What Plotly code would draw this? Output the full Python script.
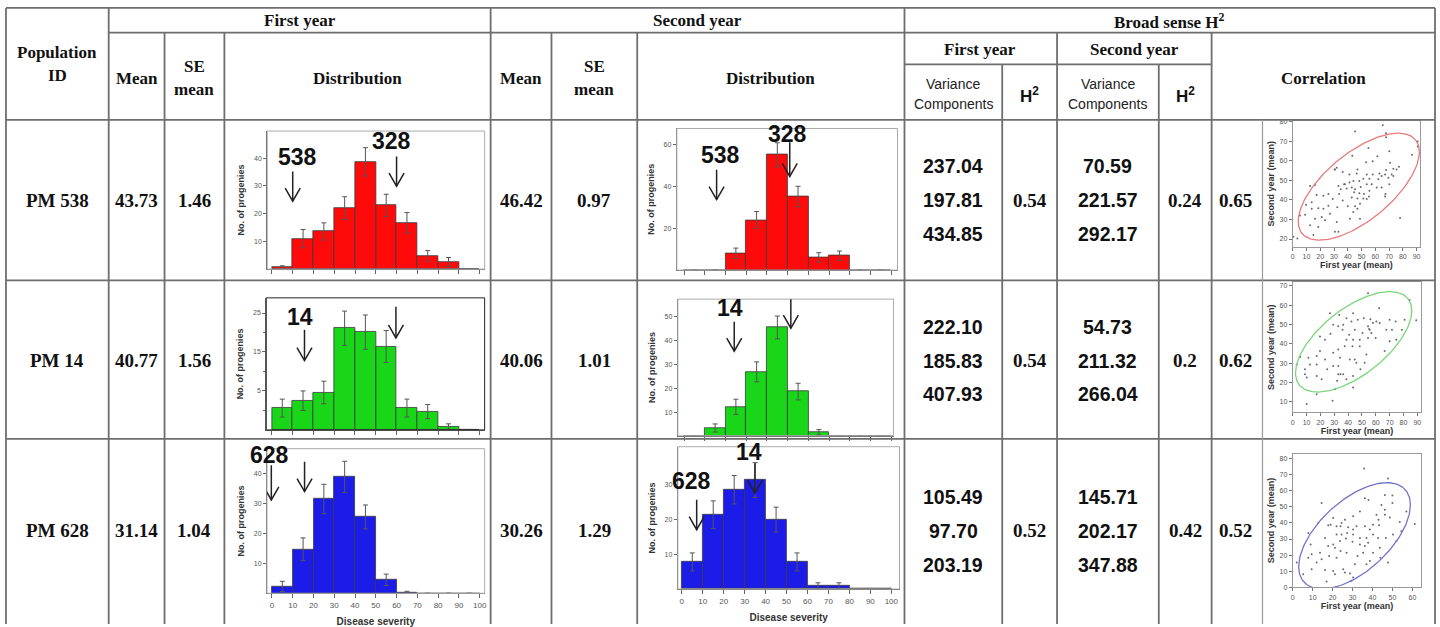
import numpy as np
import plotly.graph_objects as go

W, H = 1440, 627

# ---------------- table values ----------------
populations = ["PM 538", "PM 14", "PM 628"]
mean_y1 = ["43.73", "40.77", "31.14"]
se_y1 = ["1.46", "1.56", "1.04"]
mean_y2 = ["46.42", "40.06", "30.26"]
se_y2 = ["0.97", "1.01", "1.29"]
var_comp_y1 = [["237.04", "197.81", "434.85"],
               ["222.10", "185.83", "407.93"],
               ["105.49", "97.70", "203.19"]]
h2_y1 = ["0.54", "0.54", "0.52"]
var_comp_y2 = [["70.59", "221.57", "292.17"],
               ["54.73", "211.32", "266.04"],
               ["145.71", "202.17", "347.88"]]
h2_y2 = ["0.24", "0.2", "0.42"]
correlation = ["0.65", "0.62", "0.52"]

# ---------------- histogram values (bins of 10 over 0-100) ----------------
bin_centers = [5, 15, 25, 35, 45, 55, 65, 75, 85, 95]
pm538_y1 = [0.6, 11, 13.6, 22, 38.7, 23, 16.7, 4.8, 2.6, 0]
pm538_y1_err = [0.6, 3.3, 3.1, 4.1, 5.1, 4.0, 3.7, 1.9, 1.6, 0]
pm538_y2 = [0, 0, 8.0, 23.9, 55, 35.1, 6.1, 6.9, 0, 0]
pm538_y2_err = [0, 0, 2.5, 4.1, 5.8, 4.9, 2.2, 2.2, 0, 0]
pm14_y1 = [5.6, 7.5, 9.6, 26.1, 25.1, 21.4, 5.6, 4.7, 0.85, 0.1]
pm14_y1_err = [2.3, 2.5, 2.9, 4.4, 4.4, 4.1, 2.3, 1.8, 0.7, 0]
pm14_y2 = [0, 3.3, 12.2, 26.9, 45.6, 18.6, 1.5, 0, 0, 0]
pm14_y2_err = [0, 1.7, 3.2, 4.2, 4.8, 3.5, 1.1, 0, 0, 0]
pm628_y1 = [2.3, 14.7, 31.5, 38.9, 25.5, 4.5, 0.33, 0, 0, 0]
pm628_y1_err = [1.7, 3.8, 4.9, 5.2, 4.0, 1.9, 0.33, 0, 0, 0]
pm628_y2 = [7.8, 21.4, 28.6, 31.4, 20, 7.8, 1, 1, 0, 0]
pm628_y2_err = [2.6, 4.0, 4.1, 5.0, 3.6, 2.6, 0.8, 0.8, 0, 0]

# y-axis tick labels of each histogram (positions, printed text)
ticks_538_y1 = ([10, 20, 30, 40], ["10", "20", "30", "40"])
ticks_538_y2 = ([20, 40, 60], ["20", "40", "60"])
ticks_14_y1 = ([10, 20, 30], ["5", "15", "25"])
ticks_14_y2 = ([10, 20, 30, 40, 50], ["10", "20", "30", "40", "50"])
ticks_628_y1 = ([10, 20, 30, 40], ["10", "20", "30", "40"])
ticks_628_y2 = ([10, 20, 30], ["10", "20", "30"])

# parent markers on the histograms: (x, arrow tip y, arrow tail y)
marks_538_y1 = [(10, 24.5, 35.2), (60, 29.9, 40.6)]
labels_538_y1 = [("538", 12.5, 40.6), ("328", 57.6, 46.3)]
marks_538_y2 = [(15.7, 33.7, 47.9), (51, 44.7, 61)]
labels_538_y2 = [("538", 17.8, 55), ("328", 49.9, 65.2)]
marks_14_y1 = [(15.7, 17.8, 25.7), (59.7, 23.6, 31.6)]
labels_14_y1 = [("14", 13.6, 29)]
marks_14_y2 = [(24.2, 35.6, 48), (51.5, 45.3, 57.8)]
labels_14_y2 = [("14", 22.2, 53.6)]
marks_628_y1 = [(-0.3, 31.2, 42.8), (15.7, 34, 43.9)]
labels_628_y1 = [("628", -1.4, 46.3)]
marks_628_y2 = [(7.1, 17.1, 25.7), (34.9, 27.6, 36.2)]
labels_628_y2 = [("628", 4.8, 31), ("14", 32.2, 39.5)]

# ---------------- progeny means: first year (x) vs second year (y) ----------------
pm538_first = [45.3, 65.4, 67.8, 67.8, 90.8, 90.8, 70.2, 86.7, 55, 61.5, 58.1, 70.7, 67.8, 73.1, 43.3, 47, 32, 30.5,
               36.3, 41.2, 46.5, 53.8, 58.1, 63, 64.6, 67.1, 71.9, 75.5, 77.2, 51.3, 55.7, 48.4, 44.1, 41.2, 37.3, 33.2,
               34.9, 39.2, 42.9, 45.3, 49.4, 53.8, 57.4, 61, 64.6, 62.2, 69.5, 70.2, 73.1, 44.6, 48.4, 51.8, 42.9, 47,
               51.3, 55.4, 48.9, 45.3, 40, 36.3, 33.7, 29.1, 25.9, 22.3, 17.4, 13.8, 9.7, 13.8, 18.6, 22.3, 25.9, 32.4,
               27.1, 21.1, 16.2, 9, 5.3, 12.6, 18.6, 23.5, 32, 33.2, 30.7, 41.6, 48.9, 55.7, 67.3, 67.1, 78, 16.2, 12.6,
               53.3, 38, 3.4, 0.5, 15, 30.7, 53.8, 47, 44]
pm538_second = [75, 78.3, 74.1, 72.1, 69.9, 67.4, 64.9, 63.2, 66.6, 62.4, 59.8, 59, 55.3, 56, 62.7, 55.6, 56.5, 55.6,
                54.3, 53.1, 53.6, 53.1, 53.1, 53.6, 52.3, 53.1, 53.1, 55.6, 57, 50.9, 50.9, 49.7, 49.7, 48.9, 48.1, 47.2,
                45.5, 45.9, 46.4, 45.5, 46.7, 48.1, 48.1, 46.4, 46.4, 50.6, 51.4, 48.1, 52.3, 43.9, 43.5, 43, 41.3, 40.8,
                40.8, 41.8, 38, 36.8, 36.8, 39.7, 43, 40.5, 43, 42.2, 42.5, 38.8, 37.5, 35.5, 35.8, 35.5, 37.1, 36.3,
                32.9, 31.3, 30.4, 32.4, 32.1, 27.1, 26.2, 29.6, 28.7, 23.7, 23.7, 30.4, 30.4, 44.7, 43, 41.8, 30.8, 47.6,
                47.2, 59.3, 48, 20.3, 21.2, 22, 55.6, 40.5, 35.5, 33.8]
pm14_first = [54.4, 62.4, 84.4, 89.2, 71.7, 43.6, 38.8, 33.6, 26.9, 32.9, 29.3, 36.5, 42.4, 47, 51.3, 56.1, 60.4, 58,
              62.8, 55.2, 56.8, 59.9, 54.4, 50.4, 44.8, 40.8, 38.8, 43.6, 48.4, 37.6, 43.2, 48.4, 32.9, 29.3, 34.1,
              41.2, 44.8, 53.2, 66.4, 70, 74.8, 74.3, 70, 67.6, 19.7, 17.3, 11.3, 5.3, 2.9, 8.9, 12.5, 17.3, 23.3, 24.9,
              29.3, 32.9, 36.5, 43.6, 48.9, 46, 17.3, 20.9, 10.1, 8.9, 28.8, 10.1, 17.3, 30.5, 34.5, 38.8, 43.6, 54.4,
              55.6, 27.3, 23.3, 19.7, 80.8, 78.9, 52, 32.1, 36, 32.9]
pm14_second = [66.1, 58.4, 62.6, 52.1, 47.3, 55.8, 53.2, 54.9, 55.8, 49, 49.8, 49.8, 51.5, 52.4, 53.2, 52.7, 51.5, 50.7,
               50.7, 47.6, 45.6, 43, 43, 45.6, 47.3, 44.7, 42.1, 42.1, 42.1, 38.7, 38.7, 38.7, 37, 35.3, 32.7, 31.9,
               31.9, 34.4, 36.2, 41.3, 42.1, 51.5, 52.4, 47.3, 36.2, 33.6, 32.7, 33.2, 29.3, 26.8, 29.3, 29.3, 31.9,
               26.8, 28.5, 24.2, 24.2, 23.3, 26.8, 30.2, 23.3, 21.6, 22.5, 24.2, 10.5, 8.8, 13.9, 16.5, 24.2, 21.6, 17.4,
               49, 47.3, 45.2, 42.1, 43.8, 52.4, 47.3, 30.2, 20.8, 47.3, 28.5]
pm628_first = [35.8, 47.8, 61.2, 14.5, 36.2, 38, 46.2, 50, 50, 46.2, 48.7, 57, 42, 43, 40.3, 38.7, 36.2, 33.7, 30.3,
               26.2, 24, 20.3, 17.8, 22, 24.5, 27.8, 32, 30.3, 33.7, 37, 37.8, 36.2, 33.7, 30, 26.7, 23.7, 20.3, 17.8,
               21.2, 24, 27, 22, 18.3, 14.5, 9, 9.5, 13.7, 7.8, 12, 9.5, 16.2, 20.3, 21.2, 25.3, 26.2, 28.7, 30.3, 29.5,
               17, 5.3, 2, 7.8, 40.3, 42.8, 43.7, 46.7, 50.3, 54.5, 53.7, 52, 38.7, 40.3, 44, 47.8, 32.5, 35.3, 31.2, 37,
               16.2, 12.8, 19, 24.5, 27.3, 46.2, 44.5, 43.3, 30.3, 22]
pm628_second = [73.8, 67.6, 39.3, 52.3, 55.3, 54.3, 57.4, 57, 52.3, 48.2, 43.4, 47.1, 45.1, 42, 38.9, 35.9, 37.9, 47.1,
                44.1, 42, 37.9, 43, 38.5, 37.9, 40, 37.3, 37.9, 32.8, 30.7, 30.7, 27.7, 25.6, 26.6, 28.3, 30.3, 28.7,
                26.6, 25.6, 24.6, 22.5, 21.5, 18.4, 19.5, 17.4, 26.6, 20.5, 21.5, 18.4, 15.4, 11.3, 10.7, 10.2, 8.2, 11.3,
                9.2, 8.6, 6.1, 4.1, 3.7, 8.2, 15.4, 33.8, 32.8, 30.7, 24.6, 30.7, 32.8, 34.8, 40.6, 28.7, 16.4, 21.5,
                18.4, 15.4, 19.5, 21.5, 14.3, 14.3, 30.7, 40, 38.9, 32.8, 33.8, 45.1, 51.2, 38.5, 35.9, 32.8]

# density ellipse parameters: centre x, centre y, half-width x, half-height y, correlation
ellipse_538 = (48, 46.8, 44, 27.4, 0.65)
ellipse_14 = (44, 41, 42, 26, 0.62)
ellipse_628 = (31, 32, 28, 33, 0.58)

SERIF = "Liberation Serif, Times New Roman, serif"
SANS = "Liberation Sans, Arial, sans-serif"

fig = go.Figure()
axes = {}
annotations = []
shapes = []


def px(x):
    return x / W


def py(y):
    return 1 - y / H


def keys(i):
    s = "" if i == 1 else str(i)
    return "xaxis" + s, "yaxis" + s, "x" + s, "y" + s


def text(x, y, s, size, family=SERIF, color="#111", bold=True):
    annotations.append(dict(x=px(x), y=py(y), xref="paper", yref="paper", showarrow=False,
                            text=f"<b>{s}</b>" if bold else s,
                            font=dict(size=size, family=family, color=color),
                            xanchor="center", yanchor="middle"))


def line(x0, y0, x1, y1, color="#6e6e6e", width=1.8):
    shapes.append(dict(type="line", xref="paper", yref="paper", x0=px(x0), y0=py(y0), x1=px(x1), y1=py(y1),
                       line=dict(color=color, width=width)))


def add_hist(i, frame, xrange_, yrange_, yticks, counts, errs, color, marks, labels, frame_color,
             xlabels=False, minor_y=None):
    xa, ya, xr, yr = keys(i)
    l, t, r, b = frame
    axes[xa] = dict(domain=[px(l), px(r)], range=xrange_, anchor=yr, showgrid=False, zeroline=False,
                    showline=True, linecolor="#666", linewidth=1, ticks="outside", ticklen=4, tickcolor="#666",
                    tickvals=list(range(0, 101, 10)), showticklabels=xlabels,
                    tickfont=dict(size=8, family=SANS, color="#555"))
    if xlabels:
        axes[xa]["title"] = dict(text="<b>Disease severity</b>", standoff=9,
                                 font=dict(size=10, family=SANS, color="#333"))
    axes[ya] = dict(domain=[py(b), py(t)], range=yrange_, anchor=xr, showgrid=False, zeroline=False,
                    showline=True, linecolor="#666", linewidth=1, ticks="outside", ticklen=3, tickcolor="#666",
                    tickvals=yticks[0], ticktext=yticks[1], tickfont=dict(size=7, family=SANS, color="#555"),
                    title=dict(text="<b>No. of progenies</b>", standoff=7,
                               font=dict(size=9, family=SANS, color="#333")))
    if minor_y:
        axes[ya]["minor"] = dict(tickvals=minor_y, ticks="outside", ticklen=2, tickcolor="#666", showgrid=False)
    fig.add_trace(go.Bar(x=bin_centers, y=counts, width=10, xaxis=xr, yaxis=yr, showlegend=False,
                         marker=dict(color=color, line=dict(color="#3a3a3a", width=0.8)),
                         error_y=dict(type="data", array=errs, color="#555", thickness=1, width=2.5)))
    shapes.append(dict(type="rect", xref=xr + " domain", yref=yr + " domain", x0=0, x1=1, y0=0, y1=1,
                       line=dict(color=frame_color, width=1), layer="above"))
    for (mx, tip, tail) in marks:
        shapes.append(dict(type="line", xref=xr, yref=yr, x0=mx, x1=mx, y0=tip, y1=tail,
                           line=dict(color="#222", width=1.5)))
        shapes.append(dict(type="path", xref=xr, yref=yr, xsizemode="pixel", ysizemode="pixel",
                           xanchor=mx, yanchor=tip, path="M-7.5,13 L0,0 L7.5,13",
                           line=dict(color="#222", width=1.5)))
    for (s, lx, ly) in labels:
        annotations.append(dict(x=lx, y=ly, xref=xr, yref=yr, showarrow=False, text=f"<b>{s}</b>",
                                font=dict(size=23, family=SANS, color="#111"),
                                xanchor="center", yanchor="middle"))


def add_scatter(i, frame, xrange_, yrange_, xticks, yticks, xs, ys, ell, ell_color):
    xa, ya, xr, yr = keys(i)
    l, t, r, b = frame
    tickfont = dict(size=7, family=SANS, color="#555")
    axes[xa] = dict(domain=[px(l), px(r)], range=xrange_, anchor=yr, showgrid=False, zeroline=False,
                    showline=True, linecolor="#999", linewidth=1, mirror=True, ticks="outside", ticklen=3,
                    tickcolor="#777", tickvals=xticks, tickfont=tickfont,
                    title=dict(text="<b>First year (mean)</b>", standoff=2,
                               font=dict(size=9, family=SANS, color="#333")))
    axes[ya] = dict(domain=[py(b), py(t)], range=yrange_, anchor=xr, showgrid=False, zeroline=False,
                    showline=True, linecolor="#999", linewidth=1, mirror=True, ticks="outside", ticklen=3,
                    tickcolor="#777", tickvals=yticks, tickfont=tickfont,
                    title=dict(text="<b>Second year (mean)</b>", standoff=3,
                               font=dict(size=9, family=SANS, color="#333")))
    fig.add_trace(go.Scatter(x=xs, y=ys, mode="markers", xaxis=xr, yaxis=yr, showlegend=False,
                             marker=dict(size=2, color="#6a6a6a")))
    cx, cy, kx, ky, rho = ell
    t_ = np.linspace(0, 2 * np.pi, 240)
    ex = cx + kx * np.cos(t_)
    ey = cy + ky * (rho * np.cos(t_) + np.sqrt(1 - rho ** 2) * np.sin(t_))
    fig.add_trace(go.Scatter(x=ex, y=ey, mode="lines", xaxis=xr, yaxis=yr, showlegend=False,
                             line=dict(color=ell_color, width=1.3)))


RED, GREEN, BLUE = "#ff0a0a", "#19d619", "#1c1ce8"

add_hist(1, (266, 129.3, 484, 268.7), [-2.25, 102.4], [0, 49.8], ticks_538_y1,
         pm538_y1, pm538_y1_err, RED, marks_538_y1, labels_538_y1, "#aaaaaa")
add_hist(2, (676.7, 126.7, 898, 269.7), [-3.5, 103], [0, 67.6], ticks_538_y2,
         pm538_y2, pm538_y2_err, RED, marks_538_y2, labels_538_y2, "#aaaaaa")
add_hist(3, (265, 297.7, 484, 431), [-2.7, 102.4], [0, 33.9], ticks_14_y1,
         pm14_y1, pm14_y1_err, GREEN, marks_14_y1, labels_14_y1, "#222222", minor_y=[5, 15, 25])
add_hist(4, (677.7, 299, 894, 437), [-3, 101], [0, 57.5], ticks_14_y2,
         pm14_y2, pm14_y2_err, GREEN, marks_14_y2, labels_14_y2, "#aaaaaa")
add_hist(5, (265.7, 450, 484, 596), [-2.4, 102.4], [0, 48.3], ticks_628_y1,
         pm628_y1, pm628_y1_err, BLUE, marks_628_y1, labels_628_y1, "#aaaaaa", xlabels=True)
add_hist(6, (677.7, 448, 900, 591.7), [-1.9, 103.9], [0, 41], ticks_628_y2,
         pm628_y2, pm628_y2_err, BLUE, marks_628_y2, labels_628_y2, "#aaaaaa", xlabels=True)

add_scatter(7, (1294.3, 119, 1422, 246), [0, 92.5], [16.1, 80.5], list(range(0, 91, 10)), list(range(20, 81, 10)),
            pm538_first, pm538_second, ellipse_538, "#e57b7b")
add_scatter(8, (1294.3, 282, 1423.3, 413.3), [0, 92.9], [4.5, 71.8], list(range(0, 91, 10)), list(range(10, 71, 10)),
            pm14_first, pm14_second, ellipse_14, "#7ad67a")
add_scatter(9, (1294.3, 455, 1423.3, 590), [0, 64.5], [0, 83], list(range(0, 61, 10)), list(range(0, 81, 10)),
            pm628_first, pm628_second, ellipse_628, "#7474cc")

# ---------------- table grid ----------------
row_top, row_a, row_b, row_head, row_1, row_2, row_bot = 5, 30, 62, 118, 280, 440, 627
line(4, row_top, 1437, row_top)
line(107, row_a, 1437, row_a)
line(905, row_b, 1213, row_b)
for yy in (row_head, row_1, row_2):
    line(4, yy, 1437, yy)
for xx in (4, 107, 490, 905, 1437):
    line(xx, row_top, xx, row_bot)
for xx in (163, 223, 551, 637, 1058, 1213):
    line(xx, row_a, xx, row_bot)
for xx in (1003, 1160):
    line(xx, row_b, xx, row_bot)
line(1264, row_head, 1264, row_bot, color="#9a9a9a", width=1.2)

# ---------------- header text ----------------
text(298.5, 18, "First year", 17)
text(697.5, 18, "Second year", 17)
text(1171, 18, "Broad sense H<sup>2</sup>", 17)
text(55.5, 50, "Population", 17)
text(55.5, 73, "ID", 17)
for cx in (135, 520.5):
    text(cx, 76, "Mean", 17)
for cx in (193, 594):
    text(cx, 64, "SE", 17)
    text(cx, 87, "mean", 17)
text(356.5, 76, "Distribution", 17)
text(771, 76, "Distribution", 17)
text(981, 47, "First year", 17)
text(1135.5, 47, "Second year", 17)
for cx in (954, 1109):
    text(cx, 82, "Variance", 14, SANS, "#222", bold=False)
    text(cx, 102, "Components", 14, SANS, "#222", bold=False)
for cx in (1030.5, 1186.5):
    text(cx, 93, "H<sup>2</sup>", 17, SANS, "#111", bold=True)
text(1325, 76, "Correlation", 17)

# ---------------- body text ----------------
row_centres = [199, 361, 533]
for k, cy in enumerate(row_centres):
    text(55.5, cy, populations[k], 19)
    text(135, cy, mean_y1[k], 19)
    text(193, cy, se_y1[k], 19)
    text(520.5, cy, mean_y2[k], 19)
    text(594, cy, se_y2[k], 19)
    text(1030.5, cy, h2_y1[k], 19)
    text(1186.5, cy, h2_y2[k], 19)
    text(1237, cy, correlation[k], 19)
    for j, dy in enumerate((-34, 0, 34)):
        text(954, cy + dy, var_comp_y1[k][j], 19.5, SANS)
        text(1109, cy + dy, var_comp_y2[k][j], 19.5, SANS)

fig.update_layout(width=W, height=H, margin=dict(l=0, r=0, t=0, b=0),
                  paper_bgcolor="white", plot_bgcolor="white", showlegend=False,
                  annotations=annotations, shapes=shapes, bargap=0, **axes)

fig.write_html("out.html")
